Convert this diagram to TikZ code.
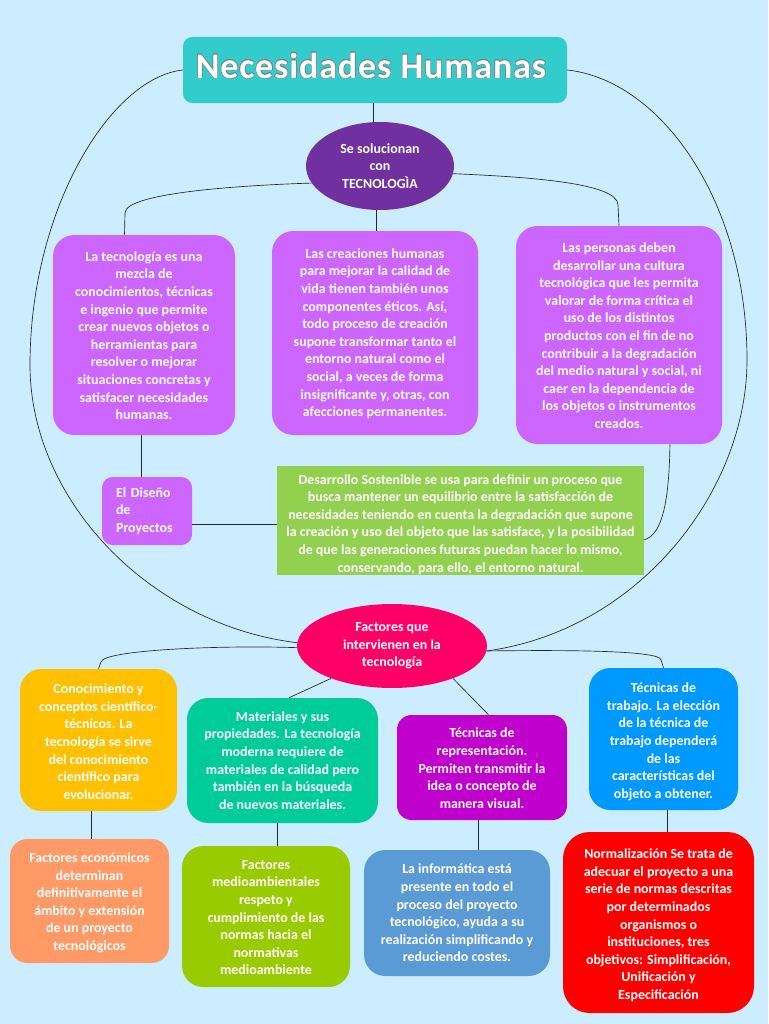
\documentclass[tikz,border=0pt]{standalone}
\usepackage{fontspec}
\setmainfont{Carlito}
\usepackage[copies]{contour}
\usetikzlibrary{shapes.geometric}
\definecolor{pagebg}{HTML}{CCECFF}
\definecolor{titlebg}{HTML}{33CCCC}
\definecolor{violetbg}{HTML}{7030A0}
\definecolor{lilacbg}{HTML}{CC66FF}
\definecolor{limebg}{HTML}{92D050}
\definecolor{rosebg}{HTML}{FF0066}
\definecolor{yellowbg}{HTML}{FFC000}
\definecolor{tealbg}{HTML}{00CC99}
\definecolor{magentabg}{HTML}{C000CC}
\definecolor{bluebg}{HTML}{0099FF}
\definecolor{orangebg}{HTML}{FF9966}
\definecolor{olivebg}{HTML}{99CC00}
\definecolor{steelbg}{HTML}{5B9BD5}
\definecolor{redbg}{HTML}{FF0000}
\newcommand{\sunk}[2]{\raisebox{-#1}[\height][\depth]{\begin{tabular}{@{}c@{}}#2\end{tabular}}}
\tikzset{
  boxsize/.style 2 args={minimum width=#1*0.75pt, minimum height=#2*0.75pt},
  bubble/.style={rectangle, rounded corners=16pt, inner sep=0pt, text=white, align=center,
    font=\fontsize{10.45}{13.2}\selectfont\bfseries},
  oval/.style={ellipse, inner sep=0pt, text=white, align=center,
    font=\fontsize{10.45}{13.2}\selectfont\bfseries},
  link/.style={line width=0.5pt, black!85},
  stem/.style={line width=0.65pt, black!85},
}
\begin{document}
\begin{tikzpicture}[x=0.75pt, y=-0.75pt]
	\fill[pagebg] (0,0) rectangle (768,1024);
	% upper part
	\node[bubble, fill=titlebg, boxsize={384}{66}, rounded corners=7pt, font=\fontsize{27}{30}\selectfont\bfseries] (title) at (375,70)
		{\raisebox{3pt}[\height][\depth]{\contourlength{0.35pt}\contour{gray}{\addfontfeatures{LetterSpace=2.4}Necesidades Humanas}}\hspace{6pt}};
	\node[oval, fill=violetbg, boxsize={148}{88}] (solve) at (380,166)
		{Se solucionan\\con\\TECNOLOGÌA};
	\node[bubble, fill=lilacbg, boxsize={182}{200}] (mix) at (144,335)
		{\sunk{1.5pt}{La tecnología es una\\mezcla de\\conocimientos, técnicas\\e ingenio que permite\\crear nuevos objetos o\\herramientas para\\resolver o mejorar\\situaciones concretas y\\satisfacer necesidades\\humanas.}};
	\node[bubble, fill=lilacbg, boxsize={206}{204}] (ethic) at (375,333)
		{\sunk{0.75pt}{Las creaciones humanas\\para mejorar la calidad de\\vida tienen también unos\\componentes éticos. Así,\\todo proceso de creación\\supone transformar tanto el\\entorno natural como el\\social, a veces de forma\\insignificante y, otras, con\\afecciones permanentes.}};
	\node[bubble, fill=lilacbg, boxsize={206}{218}] (people) at (619,335)
		{\sunk{1.5pt}{Las personas deben\\desarrollar una cultura\\tecnológica que les permita\\valorar de forma crítica el\\uso de los distintos\\productos con el fin de no\\contribuir a la degradación\\del medio natural y social, ni\\caer en la dependencia de\\los objetos o instrumentos\\creados.}};
	\node[bubble, fill=lilacbg, boxsize={90}{68}, rounded corners=8pt, align=left, text width=46.5pt] (design) at (147,511)
		{El Diseño\\de\\Proyectos};
	\begin{scope}
		\clip (277,466) rectangle (644,575);
		\node[rectangle, fill=limebg, boxsize={367}{109}, inner sep=0pt, text=white, align=center, font=\fontsize{10.45}{13.2}\selectfont\bfseries] (green) at (460.5,520.5)
			{\sunk{3pt}{Desarrollo Sostenible se usa para definir un proceso que\\busca mantener un equilibrio entre la satisfacción de\\necesidades teniendo en cuenta la degradación que supone\\la creación y uso del objeto que las satisface, y la posibilidad\\de que las generaciones futuras puedan hacer lo mismo,\\conservando, para ello, el entorno natural.}};
	\end{scope}
	% lower part
	\node[oval, fill=rosebg, boxsize={190}{84}] (factor) at (392,646)
		{Factores que\\intervienen en la\\tecnología};
	\node[bubble, fill=yellowbg, boxsize={157}{142}] (know) at (98.5,740)
		{\sunk{2.25pt}{Conocimiento y\\conceptos científico-\\técnicos. La\\tecnología se sirve\\del conocimiento\\científico para\\evolucionar.}};
	\node[bubble, fill=tealbg, boxsize={191}{125}] (matter) at (282.5,760.5)
		{Materiales y sus\\propiedades. La tecnología\\moderna requiere de\\materiales de calidad  pero\\también  en la búsqueda\\de nuevos materiales.};
	\node[bubble, fill=magentabg, boxsize={170}{105}, rounded corners=11pt] (draft) at (482,767.5)
		{\sunk{1.5pt}{Técnicas de\\representación.\\Permiten transmitir la\\idea o concepto de\\manera visual.}};
	\node[bubble, fill=bluebg, boxsize={149}{142}] (work) at (663.5,739)
		{\sunk{2.25pt}{Técnicas de\\trabajo. La elección\\de la técnica de\\trabajo dependerá\\de las\\características del\\objeto a obtener.}};
	\node[bubble, fill=orangebg, boxsize={159}{124}, rounded corners=13pt] (money) at (89.5,901)
		{\sunk{1.5pt}{Factores económicos\\determinan\\definitivamente el\\ámbito y extensión\\de un proyecto\\tecnológicos}};
	\node[bubble, fill=olivebg, boxsize={168}{141}] (nature) at (266,916.5)
		{\sunk{1.5pt}{Factores\\medioambientales\\respeto y\\cumplimiento de las\\normas hacia el\\normativas\\medioambiente}};
	\node[bubble, fill=steelbg, boxsize={186}{126}] (info) at (457,913)
		{La informática está\\presente en todo el\\proceso del proyecto\\tecnológico, ayuda a su\\realización simplificando y\\reduciendo costes.};
	\node[bubble, fill=redbg, boxsize={191}{181}, rounded corners=20pt] (norm) at (658.5,922.5)
		{\sunk{2.25pt}{Normalización Se trata de\\adecuar el proyecto a una\\serie de normas descritas\\por determinados\\organismos o\\instituciones, tres\\objetivos: Simplificación,\\Unificación y\\Especificación}};
	% connectors
	\draw[link] (title.west) .. controls (110,78) and (30,210) .. (30,365)
		.. controls (30,500) and (150,625) .. (factor.178);
	\draw[link] (title.east) .. controls (660,80) and (747,200) .. (747,360)
		.. controls (747,490) and (640,630) .. (factor.-3);
	\draw[stem] (title.south -| solve.99) -- (solve.99);
	\draw[link] (solve.194) .. controls (250,185) and (125,192) .. (125,213) -- (mix.101);
	\draw[link] (solve.-6) .. controls (530,177) and (618,183) .. (618,205) -- (people.north);
	\draw[stem] (solve.-94) -- (ethic.north -| solve.-94);
	\draw[link] (mix.south -| design.100) -- (design.100);
	\draw[stem] (design.-17) -- (green.west |- design.-17);
	\draw[link] (people.-65) .. controls (669,510) and (660,535) .. (green.-6);
	\draw[link] (factor.181) .. controls (220,645) and (103,650) .. (101,662) -- (know.north);
	\draw[link] (factor.-3) .. controls (560,650) and (661,650) .. (661,660) -- (work.north);
	\draw[link] (factor.208) -- (matter.84);
	\draw[link] (factor.-28) -- (draft.83);
	\draw[link] (know.-96) -- (money.north -| know.-96);
	\draw[stem] (matter.-95) -- (nature.north -| matter.-95);
	\draw[stem] (draft.-94) -- (info.north -| draft.-94);
	\draw[stem] (work.-87) -- (norm.north -| work.-87);
\end{tikzpicture}
\end{document}
